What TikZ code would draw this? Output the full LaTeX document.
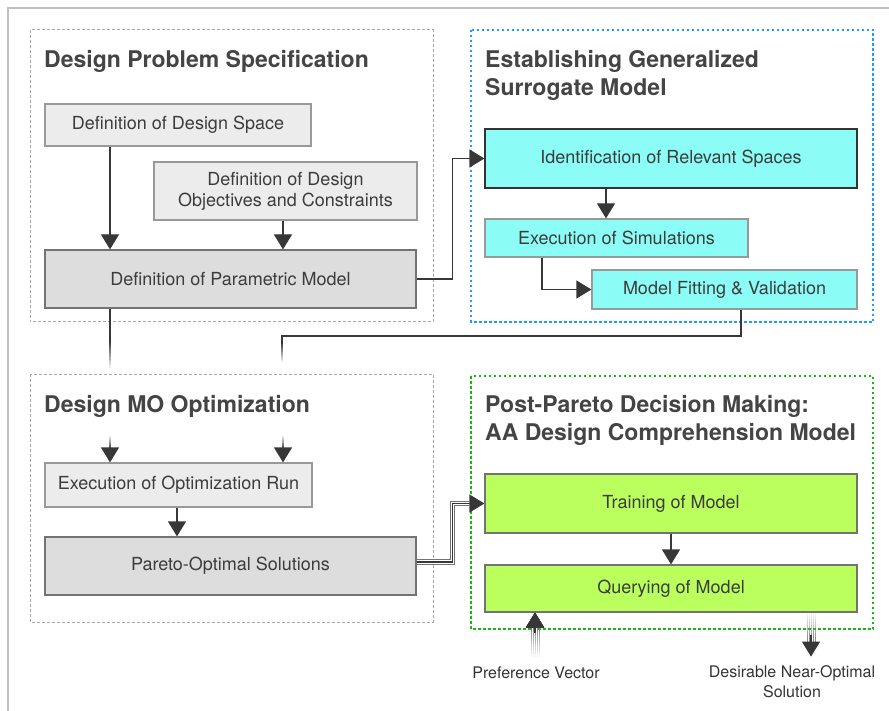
\documentclass[tikz,border=0pt]{standalone}
\usepackage{fontspec}
\setmainfont{TeX Gyre Heros}
\usetikzlibrary{arrows.meta, calc}

\definecolor{boxlight}{RGB}{236,236,236}
\definecolor{boxdark}{RGB}{221,221,221}
\definecolor{surrogate}{RGB}{140,252,246}
\definecolor{decision}{RGB}{186,255,94}
\definecolor{panelblue}{RGB}{30,155,255}
\definecolor{panelgreen}{RGB}{20,185,20}
\definecolor{titlegray}{RGB}{68,68,68}
\definecolor{textgray}{RGB}{60,60,60}
\definecolor{linegray}{RGB}{55,55,55}

% a line that fades out in 10 steps
\newcommand{\fadeline}[3]{%
  \foreach \k in {0,...,9}
    \draw[#1, opacity={1-\k/10}] ($#2!{\k/10}!#3$) -- ($#2!{(\k+1)/10}!#3$);}

\tikzset{
  panel/.style={draw=gray!70, dash pattern=on 3pt off 2pt, line width=1},
  title/.style={anchor=north west, inner sep=0, align=left, text=titlegray,
    font=\bfseries\fontsize{23}{28}\selectfont},
  box/.style={draw=gray!80, line width=1.2, text=textgray, align=center,
    font=\fontsize{18}{21}\selectfont, inner sep=0},
  arr/.style={linegray, line width=1.2, -{Triangle[length=15pt,width=18pt]}},
  link/.style={linegray, line width=1.2},
  caption/.style={text=black!80, align=center, font=\fontsize{16}{20}\selectfont},
}

\begin{document}
\begin{tikzpicture}[x=1pt, y=-1pt]

\useasboundingbox (0,0) rectangle (889,711);
\draw[gray!50, line width=2] (8,711) -- (8,8) -- (889,8);

% panels
\draw[panel] (30,30) rectangle (433,322);
\draw[panel] (30,374) rectangle (433,622);
\draw[panelblue, line width=2.5, dash pattern=on 2.5pt off 2.5pt] (471,30) rectangle (873,322);
\draw[panelgreen, line width=2.5, dash pattern=on 2.5pt off 2.5pt] (471,376) rectangle (873,629);

\node[title] (t1) at (44,50) {Design Problem Specification};
\node[title] (t2) at (485,50) {Establishing Generalized\\Surrogate Model};
\node[title] (t3) at (44,395) {Design MO Optimization};
\node[title] (t4) at (485,395) {Post-Pareto Decision Making:\\AA Design Comprehension Model};

% design problem specification
\node[box, fill=boxlight, minimum width=266, minimum height=42] (space) at (178,125) {Definition of Design Space};
\node[box, fill=boxlight, minimum width=263, minimum height=58] (objectives) at (285.5,191) {Definition of Design\\Objectives and Constraints};
\node[box, fill=boxdark, draw=gray!110, minimum width=371, minimum height=58] (param) at (230.5,279) {Definition of Parametric Model};

\draw[arr] ([xshift=-68pt]space.south) -- ([xshift=-120.5pt]param.north);
\draw[arr] ([xshift=-2.5pt]objectives.south) -- ([xshift=52.5pt]param.north);

% surrogate model
\node[box, fill=surrogate, draw=black!80, minimum width=372, minimum height=59] (ident) at (671,158.5) {Identification of Relevant Spaces};
\node[box, fill=surrogate, minimum width=263, minimum height=38] (simexec) at (616.5,238) {Execution of Simulations};
\node[box, fill=surrogate, minimum width=265, minimum height=39] (fitting) at (724.5,289.5) {Model Fitting \& Validation};

\draw[arr] (param.east) -- ++(36,0) |- (ident.west);
\draw[arr] ([xshift=-65pt]ident.south) -- ([xshift=-10.5pt]simexec.north);
\draw[arr] ([xshift=-74.5pt]simexec.south) |- (fitting.west);

% hand over to the optimization
\draw[link] ([xshift=-120.5pt]param.south) -- (110,340);
\fadeline{link}{(110,340)}{(110,368)}
\draw[link] ([xshift=16.5pt]fitting.south) |- (282,336) -- (282,342);
\fadeline{link}{(282,342)}{(282,362)}

% design mo optimization
\node[box, fill=boxlight, minimum width=267, minimum height=44] (optrun) at (178.5,485) {Execution of Optimization Run};
\node[box, fill=boxdark, draw=gray!110, minimum width=371, minimum height=58] (pareto) at (230.5,566) {Pareto-Optimal Solutions};

\fadeline{link}{(110,450)}{(110,436)}
\fadeline{link}{(283,450)}{(283,436)}
\draw[arr] (110,450) -- ([xshift=-68.5pt]optrun.north);
\draw[arr] (283,450) -- ([xshift=104.5pt]optrun.north);
\draw[arr] ([xshift=-1.5pt]optrun.south) -- ([xshift=-53.5pt]pareto.north);

% post-pareto decision making
\node[box, fill=decision, draw=gray!110, minimum width=372, minimum height=59] (training) at (671,503.5) {Training of Model};
\node[box, fill=decision, draw=gray!110, minimum width=372, minimum height=47] (querying) at (671,588.5) {Querying of Model};

\draw[gray!90!black, line width=5.5] ([yshift=4pt]pareto.east) -- ++(36,0) |- ([xshift=-15pt]training.west);
\draw[white, line width=3.3] ([yshift=4pt]pareto.east) -- ++(36,0) |- ([xshift=-15pt]training.west);
\draw[arr] ([yshift=4pt]pareto.east) -- ++(36,0) |- (training.west);
\draw[arr] (training.south) -- (querying.south |- querying.north);

% inputs and outputs
\foreach \dx in {-4,-2,0,2,4}
  \fadeline{gray, line width=0.8}{($(querying.south)+(-136+\dx,13)$)}{($(querying.south)+(-136+\dx,44)$)}
\draw[arr] ($(querying.south)+(-136,20)$) -- ([xshift=-136pt]querying.south);
\foreach \dx in {-4,-2,0,2,4}
  \fadeline{gray, line width=0.8}{($(querying.south)+(140+\dx,31)$)}{($(querying.south)+(140+\dx,0)$)}
\coordinate (result) at ($(querying.south)+(140,44)$);
\draw[arr] ($(querying.south)+(140,22)$) -- (result);

\node[caption] (pref) at (536,673) {Preference Vector};
\node[caption] (sol) at (792,682) {Desirable Near-Optimal\\Solution};

\end{tikzpicture}
\end{document}
